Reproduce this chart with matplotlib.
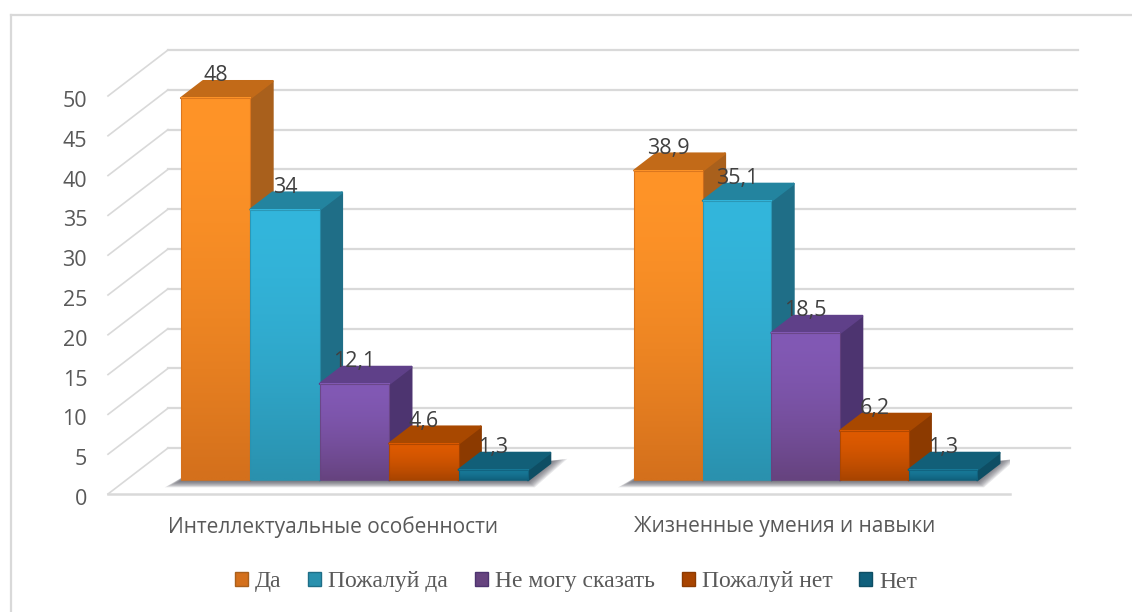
import numpy as np
import matplotlib
matplotlib.use("Agg")
import matplotlib.pyplot as plt
from matplotlib.colors import to_rgb
from matplotlib.patches import Patch, Polygon, Rectangle
from matplotlib.transforms import ScaledTranslation

categories = ["Интеллектуальные особенности", "Жизненные умения и навыки"]
series_names = ["Да", "Пожалуй да", "Не могу сказать", "Пожалуй нет", "Нет"]
values_intellect = [48, 34, 12.1, 4.6, 1.3]
values_skills = [38.9, 35.1, 18.5, 6.2, 1.3]
value_labels_intellect = ["48", "34", "12,1", "4,6", "1,3"]
value_labels_skills = ["38,9", "35,1", "18,5", "6,2", "1,3"]
y_ticks = list(range(0, 55, 5))

front_top = ["#FF9428", "#33B6DC", "#8259B5", "#DE5A00", "#187A99"]
front_bottom = ["#D4701C", "#2A91AE", "#66437F", "#A84400", "#10607C"]
top_colors = ["#C26A18", "#23849F", "#5F4089", "#A84800", "#125F78"]
side_colors = ["#A9601C", "#1F6E87", "#4D3470", "#8C3A00", "#0E4E64"]
GRID = "#D9D9D9"
TEXT = "#595959"
LABEL = "#404040"

# oblique projection: depth 0..1 shifts a point right and up, in data units
DEPTH_X = 60 / 451
DEPTH_Y = 46 / 7.96
BAR_FRONT = 0.30
BAR_BACK = 0.67
BAR_WIDTHS = [69.4 / 451, 68.6 / 451]
GROUP_SHIFT = [0.0066, 0.0071]
# back wall lines get slightly longer towards the top
WALL_FLARE = 8 / 451 / 50


def project(x, v, d):
    return x + d * DEPTH_X, v + d * DEPTH_Y


def draw_shadow(ax, x0, x1):
    # soft floor shadow, a stack of faint polygons
    for grow in np.linspace(0.0, 1.0, 10):
        pts = [
            project(x0 - 0.036 * grow, -0.1 - 0.8 * grow, BAR_FRONT),
            project(x1 + 0.015 * grow, -0.1 - 0.8 * grow, BAR_FRONT),
            project(x1 + 0.03 * grow, 0.2, BAR_BACK + 0.06 * grow),
            project(x1 - 0.02, 0.2, BAR_BACK),
            project(x0 + 0.01, 0.6, BAR_FRONT),
        ]
        ax.add_patch(Polygon(pts, closed=True, fc="#4A4A55", ec="none", alpha=0.12, zorder=2))


def draw_bar(ax, x0, width, value, idx, label):
    x1 = x0 + width
    side = [project(x1, 0, BAR_FRONT), project(x1, 0, BAR_BACK),
            project(x1, value, BAR_BACK), project(x1, value, BAR_FRONT)]
    top = [project(x0, value, BAR_FRONT), project(x1, value, BAR_FRONT),
           project(x1, value, BAR_BACK), project(x0, value, BAR_BACK)]
    ax.add_patch(Polygon(side, closed=True, fc=side_colors[idx], ec=side_colors[idx],
                         lw=1.6, joinstyle="round", zorder=3 + idx, clip_on=False))
    ax.add_patch(Polygon(top, closed=True, fc=top_colors[idx], ec=top_colors[idx],
                         lw=1.6, joinstyle="round", zorder=3 + idx, clip_on=False))
    # front face with vertical gradient, stays bright for longer at the top
    fx, fy = project(x0, 0, BAR_FRONT)
    t = np.linspace(0, 1, 64)[:, None] ** 1.6
    c0, c1 = np.array(to_rgb(front_top[idx])), np.array(to_rgb(front_bottom[idx]))
    grad = c0 * (1 - t) + c1 * t
    ax.imshow(grad[:, None, :], extent=(fx, fx + width, fy, fy + value), aspect="auto",
              origin="upper", interpolation="bilinear", zorder=3 + idx + 0.5, clip_on=False)
    ax.add_patch(Rectangle((fx, fy), width, value, fc="none", ec=front_bottom[idx],
                           lw=0.8, alpha=0.8, zorder=3 + idx + 0.6, clip_on=False))
    ax.annotate(label, (fx + width / 2, fy + value), xytext=(0, 16), textcoords="offset points",
                ha="center", va="center", fontsize=15.5, color=LABEL, zorder=20)


plt.rcParams["font.family"] = ["Open Sans", "DejaVu Sans"]

fig = plt.figure(figsize=(11.32, 6.12), dpi=100)
W, H = 1132, 612

# axes box is the front plane of the 3d frame
ax = fig.add_axes([108 / W, 1 - 494 / H, 902 / W, 398 / H])
ax.set_xlim(0, 2)
ax.set_ylim(0, 50)
ax.patch.set_alpha(0)
for s in ax.spines.values():
    s.set_visible(False)

# walls
for v in y_ticks:
    bx, by = project(0, v, 1)
    ex, _ = project(2 + v * WALL_FLARE, v, 1)
    ax.plot([bx, ex], [by, by], color=GRID, lw=1.6, clip_on=False, zorder=1)
    ax.plot([0, bx], [v, by], color=GRID, lw=1.2, clip_on=False, zorder=1)
ax.plot([0, 2], [0, 0], color=GRID, lw=1.8, clip_on=False, zorder=1)

ax.set_xticks([0.5, 1.5])
ax.set_xticklabels(categories, fontsize=15, color=TEXT)
ax.set_yticks(y_ticks)
ax.set_yticklabels([str(v) for v in y_ticks], fontsize=15.5, color=TEXT)
ax.tick_params(axis="both", length=0)
ax.tick_params(axis="x", pad=16)
ax.tick_params(axis="y", pad=15)
# the axis numbers sit a little under their lines in the original
nudge = ScaledTranslation(0, -3 / 100, fig.dpi_scale_trans)
for lab in ax.get_yticklabels():
    lab.set_transform(lab.get_transform() + nudge)

groups = [values_intellect, values_skills]
group_labels = [value_labels_intellect, value_labels_skills]
for g, (vals, labs) in enumerate(zip(groups, group_labels)):
    bar_w = BAR_WIDTHS[g]
    start = g + 0.5 - 2.5 * bar_w + GROUP_SHIFT[g]
    draw_shadow(ax, start, start + 5 * bar_w)
    for i, (val, lab) in enumerate(zip(vals, labs)):
        draw_bar(ax, start + i * bar_w, bar_w, val, i, lab)

ax.set_xlim(0, 2)
ax.set_ylim(0, 50)
ax.set_aspect("auto")

handles = [Patch(fc=front_bottom[i], ec=side_colors[i], lw=1) for i in range(5)]
fig.legend(handles, series_names, loc="center", bbox_to_anchor=(576 / W, 1 - 582 / H), ncol=5,
           frameon=False, handlelength=0.55, handleheight=0.55, handletextpad=0.3,
           columnspacing=1.14, labelcolor=TEXT,
           prop={"family": "Liberation Serif", "size": 17})

# frame: only the top and left edges are visible in the picture
fig.add_artist(plt.Line2D([11 / W, 1], [1 - 15 / H, 1 - 15 / H], color=GRID, lw=1.6))
fig.add_artist(plt.Line2D([11 / W, 11 / W], [0, 1 - 15 / H], color=GRID, lw=1.6))

fig.savefig("out.png", dpi=100)
